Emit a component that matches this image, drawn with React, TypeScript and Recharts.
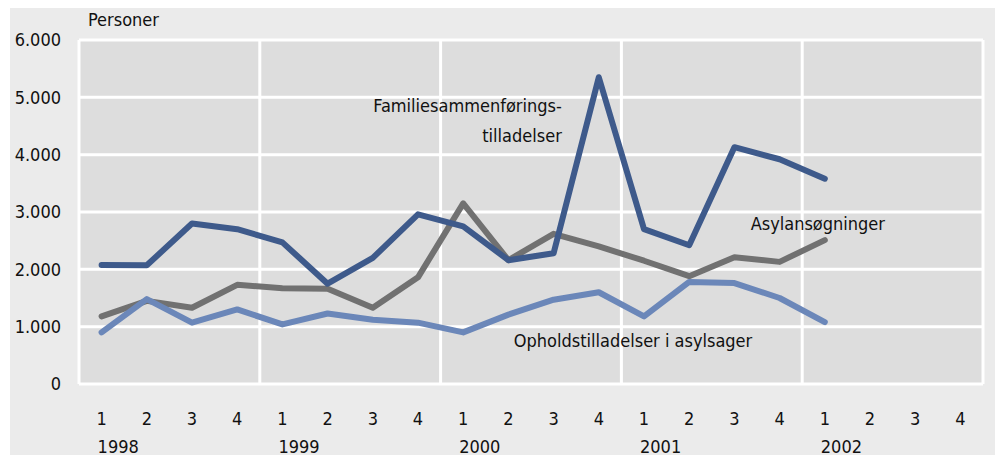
import { LineChart, Line, XAxis, YAxis, CartesianGrid, ReferenceDot } from 'recharts';

const years = ['1998', '1999', '2000', '2001', '2002'];
const quarters = ['1', '2', '3', '4'];

// Personer pr. kvartal, 1998 K1 - 2002 K1
const familie = [2075, 2070, 2800, 2700, 2470, 1750, 2200, 2960, 2750, 2160, 2280, 5350, 2700, 2420, 4130, 3920, 3580];
const asyl = [1180, 1450, 1330, 1730, 1670, 1660, 1330, 1860, 3150, 2160, 2620, 2400, 2150, 1880, 2210, 2130, 2510];
const ophold = [900, 1480, 1070, 1300, 1040, 1230, 1120, 1070, 900, 1210, 1470, 1600, 1180, 1780, 1760, 1500, 1080];

const yTicks = [0, 1000, 2000, 3000, 4000, 5000, 6000];

const FONT = '"DejaVu Sans Condensed", "Liberation Sans", sans-serif';
const FS = 18;

const data = years.flatMap((y, yi) =>
  quarters.map((q, qi) => {
    const i = yi * 4 + qi;
    return {
      key: `${y}-${q}`,
      familie: familie[i] ?? null,
      asyl: asyl[i] ?? null,
      ophold: ophold[i] ?? null,
    };
  })
);

const fmt = (v: number) => v.toLocaleString('da-DK');

const QuarterTick = ({ x, y, payload }: any) => {
  const [yr, q] = String(payload.value).split('-');
  return (
    <g>
      <text x={x} y={y + 34} textAnchor="middle" dominantBaseline="central" fontSize={FS} fill="#111">
        {q}
      </text>
      {q === '1' && (
        <text x={x - 4} y={y + 62} textAnchor="start" dominantBaseline="central" fontSize={FS} fill="#111">
          {yr}
        </text>
      )}
    </g>
  );
};

const textLabel =
  (lines: string[], dx: number, dy: number, anchor: 'start' | 'middle' | 'end') =>
  ({ viewBox }: any) => {
    const cx = viewBox.x + viewBox.width / 2;
    const cy = viewBox.y + viewBox.height / 2;
    return (
      <g>
        {lines.map((l, i) => (
          <text key={i} x={cx + dx} y={cy + dy + i * 30} textAnchor={anchor} dominantBaseline="central" fontSize={FS} fill="#111">
            {l}
          </text>
        ))}
      </g>
    );
  };

export default function App() {
  return (
    <div style={{ position: 'absolute', left: 10, top: 8, width: 985, height: 447, background: '#ebebeb', fontFamily: FONT }}>
      <span style={{ position: 'absolute', left: 78, top: 1, fontSize: FS, lineHeight: '22px', color: '#111' }}>Personer</span>
      <LineChart width={985} height={447} data={data} margin={{ top: 32, right: 12, left: 0, bottom: 0 }} style={{ fontFamily: FONT }}>
        <CartesianGrid
          fill="#dddddd"
          stroke="#ffffff"
          strokeWidth={3}
          horizontalValues={yTicks}
          verticalCoordinatesGenerator={({ offset }: any) =>
            [0, 1, 2, 3, 4, 5].map((i) => offset.left + (i * offset.width) / 5)
          }
        />
        <XAxis dataKey="key" scale="band" height={71} axisLine={false} tickLine={false} tickSize={0} tickMargin={0} interval={0} tick={<QuarterTick />} />
        <YAxis
          width={69}
          domain={[0, 6000]}
          ticks={yTicks}
          axisLine={false}
          tickLine={false}
          tickSize={0}
          tickMargin={18}
          tickFormatter={fmt}
          tick={{ fontSize: FS, fill: '#111' }}
        />
        <Line dataKey="asyl" stroke="#717171" strokeWidth={6} dot={false} isAnimationActive={false} strokeLinejoin="round" strokeLinecap="round" />
        <Line dataKey="ophold" stroke="#6b87b9" strokeWidth={6} dot={false} isAnimationActive={false} strokeLinejoin="round" strokeLinecap="round" />
        <Line dataKey="familie" stroke="#3e5a8b" strokeWidth={6} dot={false} isAnimationActive={false} strokeLinejoin="round" strokeLinecap="round" />
        <ReferenceDot x="2000-4" y={5000} r={0} label={textLabel(['Familiesammenførings-', 'tilladelser'], -37, 8, 'end')} />
        <ReferenceDot x="2002-1" y={3000} r={0} label={textLabel(['Asylansøgninger'], -7, 11, 'middle')} />
        <ReferenceDot x="2001-1" y={1000} r={0} label={textLabel(['Opholdstilladelser i asylsager'], -11, 14, 'middle')} />
      </LineChart>
    </div>
  );
}
